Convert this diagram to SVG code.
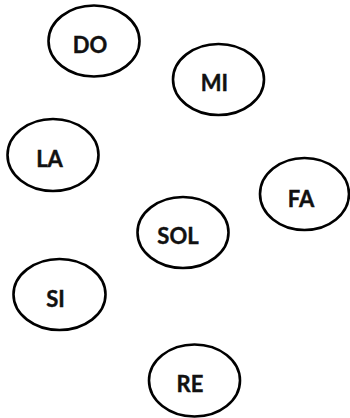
<svg xmlns="http://www.w3.org/2000/svg" width="350" height="418" viewBox="0 0 350 418">
<style>
.n ellipse{fill:#fff;stroke:#000;stroke-width:2.6}
.n text{font-family:Lato,"Open Sans",sans-serif;font-weight:bold;font-size:22px;fill:#111;text-anchor:middle;stroke:#111;stroke-width:0.4}
</style>
<rect width="350" height="418" fill="#fff"/>
<g id="connectors"></g>
<g id="DO" class="n"><ellipse cx="94" cy="41" rx="45.5" ry="35.5"/><text x="90" y="53">DO</text></g>
<g id="MI" class="n"><ellipse cx="218.5" cy="79.5" rx="45.5" ry="35.5"/><text x="214.5" y="91">MI</text></g>
<g id="LA" class="n"><ellipse cx="53" cy="155" rx="45.5" ry="36"/><text x="49.5" y="167">LA</text></g>
<g id="FA" class="n"><ellipse cx="304.5" cy="194" rx="44.5" ry="36"/><text x="301" y="207">FA</text></g>
<g id="SOL" class="n"><ellipse cx="183" cy="232.5" rx="45.5" ry="35.5"/><text x="178" y="243.5">SOL</text></g>
<g id="SI" class="n"><ellipse cx="59.5" cy="294.5" rx="46" ry="35.5"/><text x="55.5" y="306.5">SI</text></g>
<g id="RE" class="n"><ellipse cx="194.5" cy="380.5" rx="45.5" ry="36"/><text x="190" y="392">RE</text></g>
</svg>
